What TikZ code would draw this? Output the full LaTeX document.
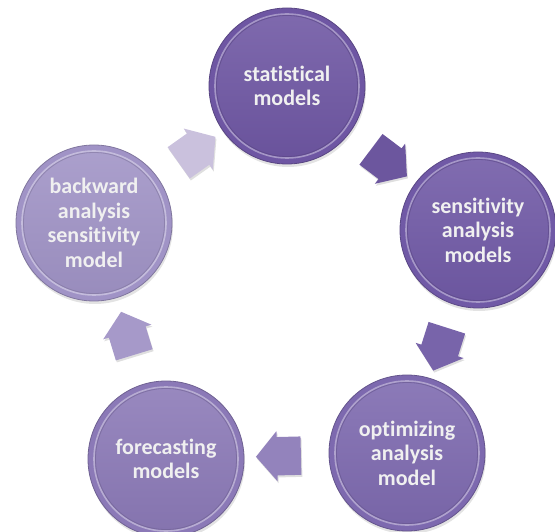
\documentclass[tikz,border=0pt]{standalone}
\usepackage{fontspec}
\setmainfont[Ligatures=NoCommon]{Carlito}
\usetikzlibrary{shapes.arrows,shadows}
\definecolor{cT}{HTML}{6E56A3}
\definecolor{cR}{HTML}{7059A6}
\definecolor{cBR}{HTML}{7D69AF}
\definecolor{cBL}{HTML}{8B79B7}
\definecolor{cL}{HTML}{A093C6}
\definecolor{aOne}{HTML}{6C569E}
\definecolor{aTwo}{HTML}{7864AA}
\definecolor{aThree}{HTML}{9383BC}
\definecolor{aFour}{HTML}{A699C9}
\definecolor{aFive}{HTML}{CAC1DD}
\tikzset{
  ball/.style={circle, minimum size=156pt, inner sep=0pt, fill=#1, draw=#1!80!black, line width=.8pt,
    drop shadow={opacity=.22, shadow xshift=1pt, shadow yshift=-3pt},
    text=white!94!black, font=\bfseries\fontsize{22}{24.5}\selectfont, align=center,
    path picture={
      \shade[top color=#1!88!white, bottom color=#1!95!black] (path picture bounding box.center) circle[radius=71pt];
      \draw[#1!55!white, line width=1.6pt, opacity=.85] (path picture bounding box.center) circle[radius=72pt];
      \draw[#1!80!black, line width=.8pt, opacity=.6] (path picture bounding box.center) circle[radius=70.5pt];
    }},
  blockarrow/.style={single arrow, fill=#1, draw=none, inner xsep=0pt, inner ysep=19pt,
    single arrow head extend=6pt, single arrow tip angle=100, minimum height=45pt,
    sloped, allow upside down,
    drop shadow={opacity=.25, shadow xshift=1pt, shadow yshift=-2pt}}
}
\begin{document}
\begin{tikzpicture}[x=1pt, y=-1pt]
\useasboundingbox (0,0) rectangle (555,532);
\node[ball=cT]  (T)  at (287,86)  {statistical\\models};
\node[ball=cR]  (R)  at (478,230) {sensitivity\\analysis\\models};
\node[ball=cBR] (BR) at (407,453) {optimizing\\analysis\\model};
\node[ball=cBL] (BL) at (166,459) {forecasting\\models};
\node[ball=cL]  (L)  at (94,223)  {backward\\analysis\\sensitivity\\model};
\path (T.center)  -- node[blockarrow=aOne]   (A1) {} (R.center);
\path (R.center)  -- node[blockarrow=aTwo]   (A2) {} (BR.center);
\path (BR.center) -- node[blockarrow=aThree] (A3) {} (BL.center);
\path (BL.center) -- node[blockarrow=aFour]  (A4) {} (L.center);
\path (L.center)  -- node[blockarrow=aFive]  (A5) {} (T.center);
\end{tikzpicture}
\end{document}
